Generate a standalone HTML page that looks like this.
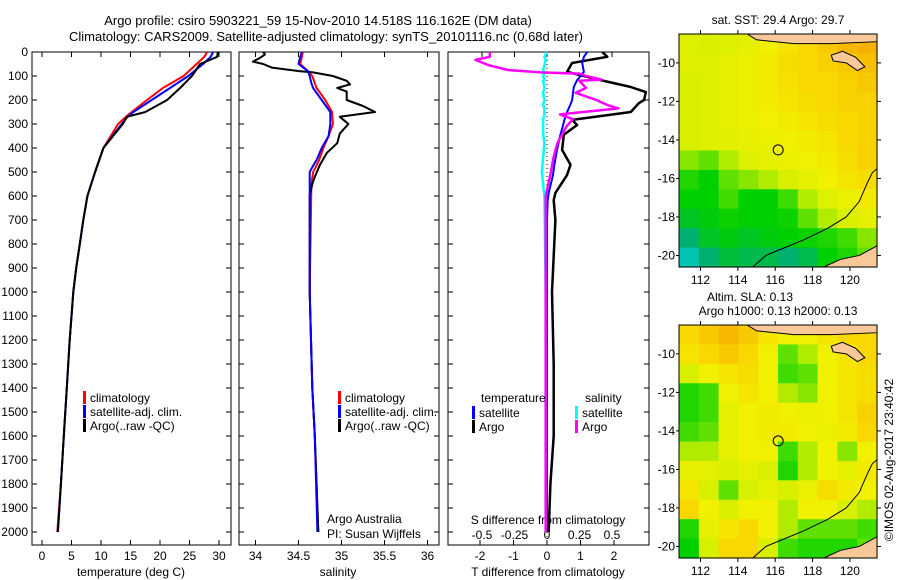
<!DOCTYPE html>
<html><head><meta charset="utf-8"><style>
body{margin:0;background:#fff;}
svg{display:block;font-family:"Liberation Sans",sans-serif;font-size:12px;}
</style></head><body>
<svg id="c" width="900" height="580" xmlns="http://www.w3.org/2000/svg">
<rect width="900" height="580" fill="#fff"/>
<text x="318" y="25" text-anchor="middle" font-size="13">Argo profile: csiro 5903221_59 15-Nov-2010 14.518S 116.162E (DM data)</text>
<text x="326" y="41" text-anchor="middle" font-size="13">Climatology: CARS2009. Satellite-adjusted climatology: synTS_20101116.nc (0.68d later)</text>
<text x="778" y="24" text-anchor="middle">sat. SST: 29.4 Argo: 29.7</text>
<text x="750" y="301" text-anchor="middle">Altim. SLA: 0.13</text>
<text x="778" y="315" text-anchor="middle">Argo h1000: 0.13 h2000: 0.13</text>
<text transform="translate(893,460) rotate(-90)" text-anchor="middle">©IMOS 02-Aug-2017 23:40:42</text>
<g id="g"></g>
</svg>
<script>
// ---- profile data ----
const tDepth   = [0,20,50,100,150,200,250,270,300,400,500,600,700,800,900,1000,1200,1400,1600,1800,2000];
const tArgo    = [29.8,29.7,26.8,25.4,23.4,21.2,17.5,14.4,13.7,10.4,9.0,7.7,7.0,6.4,5.8,5.3,4.7,4.2,3.7,3.2,2.7];
const tClim    = [28.0,27.5,26.2,24.0,20.5,17.8,15.2,14.2,12.9,10.4,9.0,7.7,7.0,6.4,5.8,5.3,4.7,4.2,3.7,3.2,2.6];
const tSat     = [29.0,28.6,27.3,24.8,21.7,18.6,15.5,14.5,13.5,10.4,9.0,7.7,7.0,6.4,5.8,5.3,4.7,4.2,3.7,3.2,2.7];
const sArgoDepth = [0,10,25,40,50,65,80,85,100,120,135,150,165,200,225,250,270,300,340,380,420,470,520,550,600,1000,1400,1600,2000];
const sArgo      = [34.09,34.11,34.05,33.97,34.09,34.19,34.52,34.67,34.9,35.06,35.1,34.95,35.06,35.06,35.25,35.39,34.98,35.08,34.98,34.95,34.83,34.75,34.69,34.66,34.63,34.63,34.66,34.69,34.73];
const sDepth   = [0,20,50,80,100,130,150,200,250,300,350,400,450,480,500,550,1000,1400,1600,2000];
const sClim    = [34.55,34.54,34.52,34.61,34.66,34.69,34.71,34.81,34.89,34.9,34.85,34.79,34.74,34.7,34.67,34.65,34.63,34.66,34.69,34.73];
const sSat     = [34.54,34.52,34.5,34.61,34.63,34.65,34.67,34.77,34.87,34.87,34.85,34.77,34.71,34.66,34.63,34.63,34.63,34.66,34.69,34.72];
const dDepth   = [0,20,46,83,117,146,167,200,212,250,283,304,345,408,470,512,587,617,700,1000,1300,1600,1800,2000];
const dTArgo   = [1.65,1.8,0.75,0.6,1.6,2.5,2.95,2.9,2.75,2.5,0.75,0.9,0.5,0.45,0.7,0.6,0.25,0.2,0.25,0.15,0.2,0.2,0.1,0.05];
const dTSat    = [1.2,1.1,1.05,1.1,0.9,0.8,0.78,0.75,0.72,0.6,0.52,0.48,0.4,0.3,0.22,0.18,0.05,0.02,0.0,0.0,0.0,0.0,0.0,0.0];
const dsDepth  = [0,20,33,55,75,85,90,100,115,120,150,170,200,220,235,260,280,310,340,380,440,500,600,1000,2000];
const dSArgo   = [-0.44,-0.44,-0.55,-0.45,-0.3,-0.05,0.25,0.3,0.42,0.25,0.3,0.22,0.38,0.46,0.55,0.1,0.2,0.15,0.12,0.08,0.05,0.03,-0.01,-0.01,-0.01];
const dSSat    = [0.0,-0.02,-0.01,-0.02,-0.03,-0.02,-0.02,-0.03,-0.02,-0.03,-0.02,-0.03,-0.02,-0.03,-0.02,-0.02,-0.03,-0.03,-0.03,-0.02,-0.03,-0.04,-0.02,-0.01,-0.01];
// ---- axis ticks ----
const depthTicks = [0,100,200,300,400,500,600,700,800,900,1000,1100,1200,1300,1400,1500,1600,1700,1800,1900,2000];
const tempTicks = [0,5,10,15,20,25,30];
const salTicks = [34,34.5,35,35.5,36];
const salTickLabels = ["34","34.5","35","35.5","36"];
const tdTicks = [-2,-1,0,1,2];
const sdTicks = [-0.5,-0.25,0,0.25,0.5];
const sdTickLabels = ["-0.5","-0.25","0","0.25","0.5"];
const lonTicks = [112,114,116,118,120];
const latTicks = [-10,-12,-14,-16,-18,-20];
// ---- map grids (colour index 0=cyan..1=orange), rows from -9 to -20 ----
const sstGrid = [
[0.62,0.6,0.62,0.65,0.7,0.75,0.8,0.85,0.9,0.92],
[0.62,0.62,0.65,0.68,0.72,0.78,0.8,0.82,0.85,0.88],
[0.6,0.62,0.65,0.68,0.72,0.76,0.8,0.8,0.82,0.85],
[0.6,0.62,0.65,0.68,0.72,0.75,0.78,0.8,0.82,0.82],
[0.6,0.62,0.65,0.68,0.7,0.72,0.75,0.78,0.8,0.82],
[0.6,0.62,0.64,0.66,0.68,0.7,0.72,0.75,0.8,0.82],
[0.5,0.45,0.55,0.62,0.65,0.68,0.7,0.72,0.78,0.82],
[0.35,0.3,0.45,0.5,0.55,0.6,0.65,0.7,0.75,0.78],
[0.3,0.3,0.4,0.3,0.3,0.4,0.55,0.62,0.68,0.72],
[0.25,0.28,0.32,0.3,0.3,0.32,0.45,0.55,0.6,0.65],
[0.15,0.25,0.28,0.25,0.28,0.3,0.32,0.35,0.4,0.5],
[0.05,0.15,0.22,0.2,0.2,0.15,0.2,0.3,0.35,0.45]];
const slaGrid = [
[0.8,0.85,0.9,0.85,0.75,0.7,0.7,0.75,0.8,0.8],
[0.75,0.8,0.85,0.8,0.7,0.45,0.55,0.7,0.75,0.8],
[0.6,0.7,0.75,0.78,0.7,0.4,0.45,0.7,0.75,0.78],
[0.35,0.4,0.7,0.75,0.7,0.55,0.5,0.7,0.75,0.78],
[0.35,0.4,0.65,0.7,0.72,0.7,0.68,0.7,0.75,0.82],
[0.4,0.45,0.65,0.7,0.72,0.72,0.7,0.68,0.72,0.8],
[0.55,0.55,0.65,0.7,0.7,0.4,0.55,0.7,0.5,0.7],
[0.65,0.65,0.6,0.65,0.6,0.35,0.55,0.7,0.65,0.72],
[0.75,0.6,0.45,0.6,0.65,0.6,0.68,0.78,0.72,0.7],
[0.8,0.7,0.6,0.7,0.7,0.55,0.7,0.7,0.6,0.55],
[0.35,0.65,0.75,0.8,0.7,0.55,0.45,0.45,0.45,0.4],
[0.3,0.6,0.8,0.8,0.6,0.4,0.35,0.35,0.35,0.45]];
const argoLon = [116.16];
const argoLat = [-14.52];

const NS="http://www.w3.org/2000/svg";
const G=document.getElementById('g');
function mk(tag,attrs,parent){const e=document.createElementNS(NS,tag);for(const k in attrs)e.setAttribute(k,attrs[k]);(parent||G).appendChild(e);return e;}
const yD=d=>52+d*0.24;
const xT=t=>42+t*5.9;
const xS=s=>255.5+(s-34)*86;
const xTd=v=>547+v*33.5;
const xSd=v=>547+v*130;
function line(xs,ys,fx,fy,col,w,name){
  const p=xs.map((v,i)=>fx(v).toFixed(1)+','+fy(ys[i]).toFixed(1)).join(' ');
  const e=mk('polyline',{points:p,fill:'none',stroke:col,'stroke-width':w,'stroke-linejoin':'round'});
  
  
}
function txt(x,y,s,anchor,name,extra){
  const e=mk('text',Object.assign({x:x,y:y,'text-anchor':anchor||'start'},extra||{}));e.textContent=s;
  
  
  return e;
}
// panels
const panels=[[32,231,'temperature-panel'],[239,439,'salinity-panel'],[448,649,'difference-panel']];
panels.forEach(p=>{
  const r=mk('rect',{x:p[0],y:52,width:p[1]-p[0],height:493,fill:'none',stroke:'#000','stroke-width':1});
  
  
  depthTicks.forEach(d=>{
    mk('line',{x1:p[0],x2:p[0]+5,y1:yD(d),y2:yD(d),stroke:'#000'});
    mk('line',{x1:p[1]-5,x2:p[1],y1:yD(d),y2:yD(d),stroke:'#000'});
  });
});
depthTicks.forEach(d=>{txt(28,yD(d)+4,String(d),'end','depth-tick-label');});
tempTicks.forEach(t=>{mk('line',{x1:xT(t),x2:xT(t),y1:545,y2:540,stroke:'#000'});mk('line',{x1:xT(t),x2:xT(t),y1:52,y2:57,stroke:'#000'});txt(xT(t),560,String(t),'middle','temperature-tick-label');});
salTicks.forEach((s,i)=>{mk('line',{x1:xS(s),x2:xS(s),y1:545,y2:540,stroke:'#000'});mk('line',{x1:xS(s),x2:xS(s),y1:52,y2:57,stroke:'#000'});txt(xS(s),560,salTickLabels[i],'middle','salinity-tick-label');});
tdTicks.forEach(t=>{mk('line',{x1:xTd(t),x2:xTd(t),y1:545,y2:540,stroke:'#000'});txt(xTd(t),560,String(t),'middle','t-diff-tick-label');});
sdTicks.forEach((s,i)=>{mk('line',{x1:xSd(s),x2:xSd(s),y1:52,y2:57,stroke:'#000'});txt(xSd(s),539,sdTickLabels[i],'middle','s-diff-tick-label');});
txt(131,576,'temperature (deg C)','middle','x-axis-title-temperature');
txt(338,576,'salinity','middle','x-axis-title-salinity');
txt(548,576,'T difference from climatology','middle','x-axis-title-t-diff');
txt(548,524,'S difference from climatology','middle','s-diff-axis-title');
txt(327,523,'Argo Australia','start','credit-argo-australia');
txt(327,538,'PI: Susan Wijffels','start','credit-pi');
// zero line
const z=mk('line',{x1:xTd(0),x2:xTd(0),y1:52,y2:545,stroke:'#000','stroke-dasharray':'1,3'});


// series
line(tClim,tDepth,xT,yD,'#f00',2,'temp-climatology-line');
line(tSat,tDepth,xT,yD,'#00f',2,'temp-satellite-line');
line(tArgo,tDepth,xT,yD,'#000',2,'temp-argo-line');
line(sClim,sDepth,xS,yD,'#f00',2,'sal-climatology-line');
line(sArgo,sArgoDepth,xS,yD,'#000',2,'sal-argo-line');
line(sSat,sDepth,xS,yD,'#00f',2,'sal-satellite-line');
line(dTArgo,dDepth,xTd,yD,'#000',2.5,'tdiff-argo-line');
line(dTSat,dDepth,xTd,yD,'#00f',2,'tdiff-satellite-line');
line(dSSat,dsDepth,xSd,yD,'#0ff',2.5,'sdiff-satellite-line');
line(dSArgo,dsDepth,xSd,yD,'#f0f',2.5,'sdiff-argo-line');
// legends
function leg(x,y,col,label,name){
  const b=mk('rect',{x:x,y:y-10,width:3,height:13,fill:col});
  
  
  txt(x+7,y+1,label,'start',name);
}
leg(83,401,'#f00','climatology','legend-climatology');
leg(83,415,'#00f','satellite-adj. clim.','legend-satellite-adj');
leg(83,429,'#000','Argo(..raw -QC)','legend-argo');
leg(338,401,'#f00','climatology','legend-sal-climatology');
leg(338,415,'#00f','satellite-adj. clim.','legend-sal-satellite-adj');
leg(338,429,'#000','Argo(..raw -QC)','legend-sal-argo');
txt(481,402,'temperature','start','legend-title-temperature');
txt(585,402,'salinity','start','legend-title-salinity');
leg(472,416,'#00f','satellite','legend-t-satellite');
leg(472,430,'#000','Argo','legend-t-argo');
leg(575,416,'#0ff','satellite','legend-s-satellite');
leg(575,430,'#f0f','Argo','legend-s-argo');
// maps
const pal=[[0,[0,208,208]],[0.15,[0,176,112]],[0.3,[0,208,0]],[0.45,[96,224,0]],[0.6,[216,240,0]],[0.7,[240,240,0]],[0.8,[248,216,0]],[0.9,[248,184,0]],[1,[240,144,0]]];
function col(v){for(let i=1;i<pal.length;i++){if(v<=pal[i][0]){const a=pal[i-1],b=pal[i],f=(v-a[0])/(b[0]-a[0]);return 'rgb('+a[1].map((c,k)=>Math.round(c+(b[1][k]-c)*f)).join(',')+')';}}return 'rgb(240,144,0)';}
function drawMap(top,grid,name){
  const L=679,W=198,H=233,lon0=110.85,lon1=121.45,lat0=-8.5,lat1=-20.6;
  const fx=lon=>L+(lon-lon0)/(lon1-lon0)*W, fy=lat=>top+(lat0-lat)/(lat0-lat1)*H;
  const rows=grid.length,cols=grid[0].length,cw=W/cols,ch=H/rows;
  grid.forEach((r,i)=>r.forEach((v,j)=>{
    const c=mk('rect',{x:(L+j*cw).toFixed(2),y:(top+i*ch).toFixed(2),width:(cw+0.6).toFixed(2),height:(ch+0.6).toFixed(2),fill:col(v)});
    
    
  }));
  const land='#f8c898';
  const p1=mk('polygon',{points:[[114.5,-8.5],[121.45,-8.5],[121.45,-8.9],[119,-9.0],[117,-9.0],[115,-8.8]].map(p=>fx(p[0])+','+fy(p[1])).join(' '),fill:land,stroke:'#000','stroke-width':1});
  
  const p2=mk('polygon',{points:[[119.0,-9.6],[119.6,-9.4],[120.3,-9.7],[120.8,-10.2],[120.4,-10.4],[119.8,-10.0],[119.1,-9.9]].map(p=>fx(p[0])+','+fy(p[1])).join(' '),fill:land,stroke:'#000','stroke-width':1});
  
  const p3=mk('polygon',{points:[[118.6,-20.6],[119.5,-20.2],[120.5,-20.0],[121.45,-19.5],[121.45,-20.6]].map(p=>fx(p[0])+','+fy(p[1])).join(' '),fill:land,stroke:'#000','stroke-width':1});
  
  const iso=mk('polyline',{points:[[114.8,-20.6],[115.5,-20.0],[116.5,-19.6],[117.5,-19.2],[118.8,-18.6],[119.8,-18.0],[120.5,-17.2],[120.9,-16.3],[121.2,-15.7],[121.45,-15.5]].map(p=>fx(p[0])+','+fy(p[1])).join(' '),fill:'none',stroke:'#000','stroke-width':1});
  
  const fr=mk('rect',{x:L,y:top,width:W,height:H,fill:'none',stroke:'#000'});
  
  lonTicks.forEach(l=>{mk('line',{x1:fx(l),x2:fx(l),y1:top,y2:top-4,stroke:'#000'});mk('line',{x1:fx(l),x2:fx(l),y1:top+H,y2:top+H+4,stroke:'#000'});txt(fx(l),top+H+17,String(l),'middle',name+'-lon-label');});
  latTicks.forEach(l=>{mk('line',{x1:L+W,x2:L+W+4,y1:fy(l),y2:fy(l),stroke:'#000'});mk('line',{x1:L,x2:L-3,y1:fy(l),y2:fy(l),stroke:'#000'});txt(L-4,fy(l)+4,String(l),'end',name+'-lat-label');});
  argoLon.forEach((lo,i)=>{const c=mk('circle',{cx:fx(lo),cy:fy(argoLat[i]),r:5,fill:'none',stroke:'#000'});
    });
}
drawMap(34,sstGrid,'sst-map');
drawMap(325,slaGrid,'sla-map');
</script>
</body></html>
